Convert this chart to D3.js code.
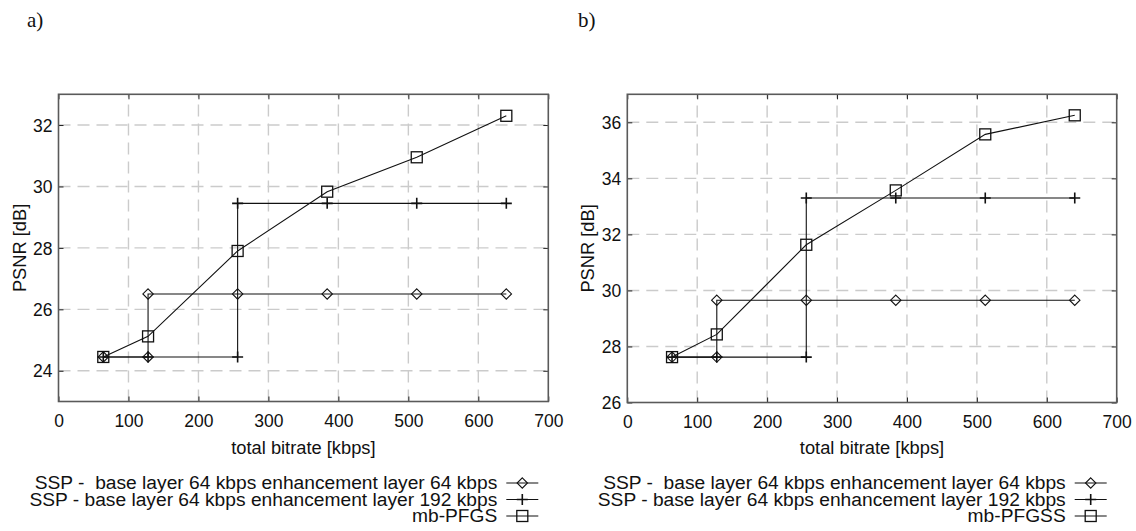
<!DOCTYPE html>
<html>
<head>
<meta charset="utf-8">
<script src="https://cdn.jsdelivr.net/npm/d3@7"></script>
<style>
  html, body { margin: 0; padding: 0; background: #fff; }
  svg { display: block; }
  text { font-family: "Liberation Sans", Arial, sans-serif; fill: #111; white-space: pre; }
</style>
</head>
<body>
<svg id="chart" width="1136" height="531"></svg>
<script>
// ---------------- data ----------------
const xTickValues = [0, 100, 200, 300, 400, 500, 600, 700];
const yTicksA = [24, 26, 28, 30, 32];
const yTicksB = [26, 28, 30, 32, 34, 36];
const yDomainA = [23, 33];
const yDomainB = [26, 37];

// panel a)
const a_ssp64_rate = [64, 128, 128, 256, 384, 512, 640];
const a_ssp64_psnr = [24.45, 24.45, 26.5, 26.5, 26.5, 26.5, 26.5];
const a_ssp192_rate = [64, 128, 256, 256, 384, 512, 640];
const a_ssp192_psnr = [24.45, 24.45, 24.45, 29.45, 29.45, 29.45, 29.45];
const a_mb_rate = [64, 128, 256, 384, 512, 640];
const a_mb_psnr = [24.45, 25.12, 27.9, 29.83, 30.95, 32.3];

// panel b)
const b_ssp64_rate = [64, 128, 128, 256, 384, 512, 640];
const b_ssp64_psnr = [27.62, 27.62, 29.65, 29.65, 29.65, 29.65, 29.65];
const b_ssp192_rate = [64, 128, 256, 256, 384, 512, 640];
const b_ssp192_psnr = [27.62, 27.62, 27.62, 33.3, 33.3, 33.3, 33.3];
const b_mb_rate = [64, 128, 256, 384, 512, 640];
const b_mb_psnr = [27.62, 28.43, 31.63, 33.57, 35.57, 36.25];

const legendA = [
  "SSP -  base layer 64 kbps enhancement layer 64 kbps",
  "SSP - base layer 64 kbps enhancement layer 192 kbps",
  "mb-PFGS"
];
const legendB = [
  "SSP -  base layer 64 kbps enhancement layer 64 kbps",
  "SSP - base layer 64 kbps enhancement layer 192 kbps",
  "mb-PFGSS"
];
const markers = ["diamond", "plus", "square"];

const svg = d3.select("#chart");

function drawMarker(g, type, cx, cy) {
  if (type === "diamond") {
    const r = 5.2;
    g.append("path")
      .attr("d", `M${cx},${cy - r}L${cx + r},${cy}L${cx},${cy + r}L${cx - r},${cy}Z`)
      .attr("fill", "none").attr("stroke", "#111").attr("stroke-width", 1.1);
  } else if (type === "plus") {
    const r = 5.5;
    g.append("path")
      .attr("d", `M${cx - r},${cy}H${cx + r}M${cx},${cy - r}V${cy + r}`)
      .attr("fill", "none").attr("stroke", "#111").attr("stroke-width", 1.6);
  } else {
    const r = 5.5;
    g.append("rect")
      .attr("x", cx - r).attr("y", cy - r).attr("width", 2 * r).attr("height", 2 * r)
      .attr("fill", "none").attr("stroke", "#111").attr("stroke-width", 1.3);
  }
}

function panel(opts) {
  const { left, right, top, bottom, yDomain, yTicks, series, legend, tag, tagX } = opts;
  const x = d3.scaleLinear().domain([0, 700]).range([left, right]);
  const y = d3.scaleLinear().domain(yDomain).range([bottom, top]);
  const g = svg.append("g");

  // grid
  const grid = g.append("g").attr("stroke", "#cbcbcb").attr("stroke-width", 1.4)
    .attr("stroke-dasharray", "12,7");
  xTickValues.slice(1, -1).forEach(v => {
    grid.append("line").attr("x1", x(v)).attr("x2", x(v)).attr("y1", bottom).attr("y2", top);
  });
  yTicks.forEach(v => {
    if (v === yDomain[0]) return;
    grid.append("line").attr("x1", left).attr("x2", right).attr("y1", y(v)).attr("y2", y(v));
  });

  // axes via d3 (bottom / left) with labels
  const xAxis = g.append("g").attr("transform", `translate(0,${bottom})`)
    .call(d3.axisBottom(x).tickValues(xTickValues).tickSize(-5).tickPadding(0).tickFormat(d3.format("d")));
  xAxis.select(".domain").remove();
  xAxis.selectAll(".tick line").attr("stroke", "#222");
  xAxis.selectAll(".tick text").attr("y", 25).attr("dy", 0)
    .style("font-size", "17.5px").style("font-family", "Liberation Sans, Arial, sans-serif").attr("fill", "#111");

  const yAxis = g.append("g").attr("transform", `translate(${left},0)`)
    .call(d3.axisLeft(y).tickValues(yTicks).tickSize(-5).tickPadding(0).tickFormat(d3.format("d")));
  yAxis.select(".domain").remove();
  yAxis.selectAll(".tick line").attr("stroke", "#222");
  yAxis.selectAll(".tick text").attr("x", -6).attr("dy", "0.35em")
    .style("font-size", "17.5px").style("font-family", "Liberation Sans, Arial, sans-serif").attr("fill", "#111");

  // top / right mirrored ticks
  const topAx = g.append("g").attr("transform", `translate(0,${top})`)
    .call(d3.axisTop(x).tickValues(xTickValues).tickSize(-5).tickFormat(""));
  topAx.select(".domain").remove();
  topAx.selectAll(".tick line").attr("stroke", "#222");
  const rightAx = g.append("g").attr("transform", `translate(${right},0)`)
    .call(d3.axisRight(y).tickValues(yTicks).tickSize(-5).tickFormat(""));
  rightAx.select(".domain").remove();
  rightAx.selectAll(".tick line").attr("stroke", "#222");

  // frame
  g.append("rect").attr("x", left).attr("y", top).attr("width", right - left).attr("height", bottom - top)
    .attr("fill", "none").attr("stroke", "#5a5a5a").attr("stroke-width", 1.6);

  // axis titles
  g.append("text").attr("x", (left + right) / 2).attr("y", 454).attr("text-anchor", "middle")
    .style("font-size", "18.3px").text("total bitrate [kbps]");
  g.append("text").attr("transform", `translate(${left - 33},${(top + bottom) / 2}) rotate(-90)`)
    .attr("text-anchor", "middle").style("font-size", "18.3px").text("PSNR [dB]");

  // series
  const line = d3.line().x(d => x(d[0])).y(d => y(d[1]));
  series.forEach((s, i) => {
    const pts = s.rate.map((r, k) => [r, s.psnr[k]]);
    g.append("path").attr("d", line(pts)).attr("fill", "none")
      .attr("stroke", "#111").attr("stroke-width", 1.1);
  });
  series.forEach((s, i) => {
    s.rate.forEach((r, k) => drawMarker(g, markers[i], x(r), y(s.psnr[k])));
  });

  // legend
  const legTextX = right - 51;
  const baselines = [489, 505.5, 522];
  legend.forEach((t, i) => {
    g.append("text").attr("x", legTextX).attr("y", baselines[i]).attr("text-anchor", "end")
      .attr("xml:space", "preserve")
      .style("font-size", "19.2px").text(t);
    const ly = baselines[i] - 6;
    g.append("line").attr("x1", legTextX + 9).attr("x2", legTextX + 41)
      .attr("y1", ly).attr("y2", ly).attr("stroke", "#111").attr("stroke-width", 1.1);
    drawMarker(g, markers[i], legTextX + 25, ly);
  });

  // panel tag
  g.append("text").attr("x", tagX).attr("y", 27)
    .style("font-family", "Liberation Serif, 'DejaVu Serif', serif").style("font-size", "21px").text(tag);
}

panel({
  left: 58.5, right: 548.3, top: 94.3, bottom: 401.5,
  yDomain: yDomainA, yTicks: yTicksA,
  series: [
    { rate: a_ssp64_rate, psnr: a_ssp64_psnr },
    { rate: a_ssp192_rate, psnr: a_ssp192_psnr },
    { rate: a_mb_rate, psnr: a_mb_psnr }
  ],
  legend: legendA, tag: "a)", tagX: 27
});

panel({
  left: 627.3, right: 1116.7, top: 94.3, bottom: 402.5,
  yDomain: yDomainB, yTicks: yTicksB,
  series: [
    { rate: b_ssp64_rate, psnr: b_ssp64_psnr },
    { rate: b_ssp192_rate, psnr: b_ssp192_psnr },
    { rate: b_mb_rate, psnr: b_mb_psnr }
  ],
  legend: legendB, tag: "b)", tagX: 578
});
</script>
</body>
</html>
